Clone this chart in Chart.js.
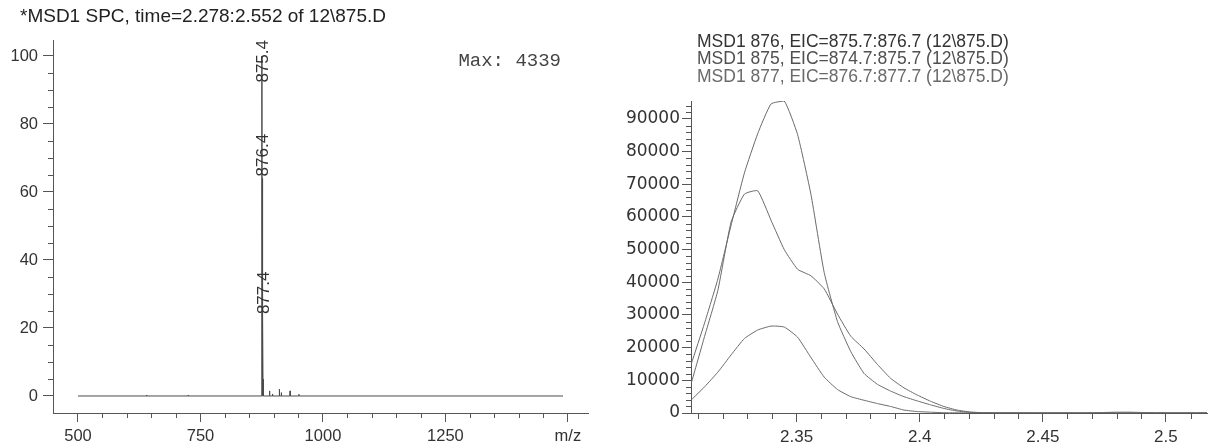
<!DOCTYPE html>
<html><head><meta charset="utf-8">
<script src="https://cdn.jsdelivr.net/npm/chart.js@4.4.1/dist/chart.umd.min.js"></script>
<style>
html,body{margin:0;padding:0;background:#fff;}
#wrap{position:relative;width:1210px;height:443px;overflow:hidden;background:#fff;}
#c1{position:absolute;left:0;top:0;}
#c2{position:absolute;left:600px;top:0;}
</style></head><body>
<div id="wrap"><canvas id="c1" width="600" height="443"></canvas><canvas id="c2" width="610" height="443"></canvas></div>
<script>
// ---------- Left: mass spectrum ----------
const specTitle = "*MSD1 SPC, time=2.278:2.552 of 12\\875.D";
const specMaxText = "Max: 4339";
const specStartMz = 500;
const specEndMz = 1490;
const specPeakMz  = [640, 725, 875.4, 876.4, 877.4, 878.4, 891, 897, 911, 915, 933, 951];
const specPeakInt = [0.3, 0.3, 100,   64,    23.5,  5,     1.5, 0.6, 2.0, 1.0, 1.5, 0.5];
const labeledMz   = [875.4, 876.4, 877.4];
const labeledInt  = [100, 64, 23.5];
const leftXTicks = [500, 750, 1000, 1250, 1500];
const leftXTickLabels = ["500", "750", "1000", "1250", "m/z"];
const leftYTicks = [0, 20, 40, 60, 80, 100];

// ---------- Right: extracted ion chromatograms ----------
const eicLabels = [
  "MSD1 876, EIC=875.7:876.7 (12\\875.D)",
  "MSD1 875, EIC=874.7:875.7 (12\\875.D)",
  "MSD1 877, EIC=876.7:877.7 (12\\875.D)"
];
const eicTimes = [2.3072,2.3126,2.3180,2.3234,2.3288,2.3342,2.3396,2.3450,2.3504,2.3558,
                  2.3612,2.3666,2.3720,2.3774,2.3828,2.3882,2.3936,2.3990,2.4044,2.4098,
                  2.4152,2.4206,2.4260,2.4314,2.4368,2.4422,2.4476,2.4530,2.4584,2.4638,
                  2.4692,2.4746,2.4800,2.4854,2.4908,2.4962,2.5016,2.5070,2.5124,2.5178];
const eic876 = [9100,23400,37500,58500,67000,68000,59000,50000,44000,42000,
                38000,30300,23500,19600,14900,10600,7700,5500,3600,2000,
                900,300,100,50,30,20,20,20,20,20,
                20,20,20,20,20,20,20,20,20,20];
const eic875 = [15000,27500,41000,57500,73500,85500,94600,95500,85200,67000,
                43000,28000,18800,12100,8800,6700,5000,3700,2500,1400,
                600,200,80,40,30,20,20,20,20,20,
                20,20,20,20,20,20,20,20,20,20];
const eic877 = [4000,8000,12500,17800,22800,25400,26600,26300,23200,17000,
                11000,7200,5000,3900,2900,2000,900,450,250,100,
                50,30,20,20,20,20,20,20,20,20,
                30,150,250,250,150,50,20,20,20,20];
const rightXTicks = [2.35, 2.40, 2.45, 2.50];
const rightYTicks = [0,10000,20000,30000,40000,50000,60000,70000,80000,90000];

const SANS = "'Liberation Sans', Arial, sans-serif";

// build stick spectrum line
function buildSpectrum() {
  const pts = [{x: specStartMz, y: 0}];
  const hw = 0.4;
  const order = specPeakMz.map((m, i) => i).sort((a, b) => specPeakMz[a] - specPeakMz[b]);
  order.forEach(i => {
    pts.push({x: specPeakMz[i] - hw, y: 0});
    pts.push({x: specPeakMz[i], y: specPeakInt[i]});
    pts.push({x: specPeakMz[i] + hw, y: 0});
  });
  pts.push({x: specEndMz, y: 0});
  return pts;
}
function range(a, b, step) { const r = []; for (let v = a; v <= b + 1e-9; v += step) r.push(+v.toFixed(6)); return r; }

const minorTicks = {
  id: 'minorTicks',
  afterDraw(chart, args, o) {
    const ctx = chart.ctx, ca = chart.chartArea;
    ctx.save(); ctx.strokeStyle = o.color; ctx.lineWidth = 1; ctx.beginPath();
    (o.x || []).forEach(v => {
      const px = Math.round(chart.scales.x.getPixelForValue(v)) + 0.5;
      ctx.moveTo(px, ca.bottom); ctx.lineTo(px, ca.bottom + o.xLen);
    });
    (o.y || []).forEach(v => {
      const py = Math.round(chart.scales.y.getPixelForValue(v)) + 0.5;
      ctx.moveTo(ca.left, py); ctx.lineTo(ca.left - o.yLen, py);
    });
    ctx.stroke(); ctx.restore();
  }
};

const leftText = {
  id: 'leftText',
  afterDraw(chart) {
    const ctx = chart.ctx, ca = chart.chartArea;
    const xs = chart.scales.x, ys = chart.scales.y;
    ctx.save();
    ctx.fillStyle = '#222';
    ctx.font = "19px " + SANS;
    ctx.textAlign = 'left'; ctx.textBaseline = 'middle';
    ctx.fillText(specTitle, 20, 17);
    ctx.font = "19px 'Liberation Mono', 'Courier New', monospace";
    ctx.fillStyle = '#444';
    ctx.textAlign = 'right';
    ctx.fillText(specMaxText, 561, 61);
    ctx.font = "17px " + SANS;
    ctx.fillStyle = '#333';
    labeledMz.forEach((m, i) => {
      const lab = m.toFixed(1);
      const px = xs.getPixelForValue(m);
      const w = ctx.measureText(lab).width;
      let bottom = ys.getPixelForValue(labeledInt[i]) - 2;
      if (bottom - w < ca.top) bottom = ca.top + w;
      ctx.save(); ctx.translate(px, bottom); ctx.rotate(-Math.PI / 2);
      ctx.textAlign = 'left'; ctx.textBaseline = 'middle';
      ctx.fillText(lab, 0, 1);
      ctx.restore();
    });
    ctx.restore();
  }
};

const rightText = {
  id: 'rightText',
  afterDraw(chart) {
    const ctx = chart.ctx;
    const cols = ['#333', '#505050', '#6a6a6a'];
    ctx.save();
    ctx.font = "17.5px " + SANS;
    ctx.textAlign = 'left'; ctx.textBaseline = 'middle';
    chart.data.datasets.forEach((d, i) => {
      ctx.fillStyle = cols[i];
      ctx.fillText(d.label, 97, 42 + i * 17.5);
    });
    ctx.restore();
  }
};

const axisColor = '#555';

new Chart(document.getElementById('c1'), {
  type: 'line',
  data: { datasets: [{ data: buildSpectrum(), borderColor: '#4a4a4a', borderWidth: 1, pointRadius: 0, tension: 0 }] },
  options: {
    responsive: false, animation: false, devicePixelRatio: 1, events: [],
    layout: { padding: { top: 40, right: 12, left: 0, bottom: 0 } },
    plugins: {
      legend: { display: false }, tooltip: { enabled: false },
      minorTicks: { color: axisColor, x: range(550, 1450, 50).filter(v => v % 250 !== 0), xLen: 5,
                    y: range(5, 100, 5).filter(v => v % 20 !== 0), yLen: 5 }
    },
    scales: {
      x: {
        type: 'linear', min: 449, max: 1541,
        afterBuildTicks: s => { s.ticks = leftXTicks.map(v => ({ value: v })); },
        afterFit: s => { s.height = 30; },
        ticks: { autoSkip: false, maxRotation: 0, padding: 5, color: '#333', font: { family: SANS, size: 16.5 },
                 callback: v => leftXTickLabels[leftXTicks.indexOf(v)] },
        grid: { display: true, drawOnChartArea: false, drawTicks: true, tickLength: 9, tickColor: axisColor },
        border: { display: true, color: axisColor, width: 1 }
      },
      y: {
        type: 'linear', min: -5, max: 104.7,
        afterBuildTicks: s => { s.ticks = leftYTicks.map(v => ({ value: v })); },
        afterFit: s => { s.width = 53; },
        ticks: { autoSkip: false, padding: 5, color: '#333', font: { family: SANS, size: 16.5 } },
        grid: { display: true, drawOnChartArea: false, drawTicks: true, tickLength: 10, tickColor: axisColor },
        border: { display: true, color: axisColor, width: 1 }
      }
    }
  },
  plugins: [minorTicks, leftText]
});

const eicSeries = [eic876, eic875, eic877];
new Chart(document.getElementById('c2'), {
  type: 'line',
  data: {
    datasets: eicSeries.map((s, k) => ({
      label: eicLabels[k],
      data: s.map((v, i) => ({ x: eicTimes[i], y: v })),
      borderColor: '#6a6a6a', borderWidth: 1, pointRadius: 0, tension: 0.15
    }))
  },
  options: {
    responsive: false, animation: false, devicePixelRatio: 1, events: [],
    layout: { padding: { top: 101, right: 3, left: 0, bottom: 0 } },
    plugins: {
      legend: { display: false }, tooltip: { enabled: false },
      minorTicks: { color: axisColor, x: range(2.31, 2.51, 0.01).filter(v => Math.abs(v * 20 - Math.round(v * 20)) > 1e-6), xLen: 6,
                    y: range(2000, 94000, 2000).filter(v => v % 10000 !== 0), yLen: 5 }
    },
    scales: {
      x: {
        type: 'linear', min: 2.3071, max: 2.5167,
        afterBuildTicks: s => { s.ticks = rightXTicks.map(v => ({ value: v })); },
        afterFit: s => { s.height = 30; },
        ticks: { autoSkip: false, maxRotation: 0, padding: 5, color: '#333', font: { family: SANS, size: 17 },
                 callback: v => String(+v.toFixed(2)) },
        grid: { display: true, drawOnChartArea: false, drawTicks: true, tickLength: 9, tickColor: axisColor },
        border: { display: true, color: axisColor, width: 1 }
      },
      y: {
        type: 'linear', min: 0, max: 95500,
        afterBuildTicks: s => { s.ticks = rightYTicks.map(v => ({ value: v })); },
        afterFit: s => { s.width = 91; },
        ticks: { autoSkip: false, padding: 2, color: '#333', font: { family: "'DejaVu Sans', sans-serif", size: 17 },
                 callback: v => String(v) },
        grid: { display: true, drawOnChartArea: false, drawTicks: true, tickLength: 9, tickColor: axisColor },
        border: { display: true, color: axisColor, width: 1 }
      }
    }
  },
  plugins: [minorTicks, rightText]
});
</script>
</body></html>
